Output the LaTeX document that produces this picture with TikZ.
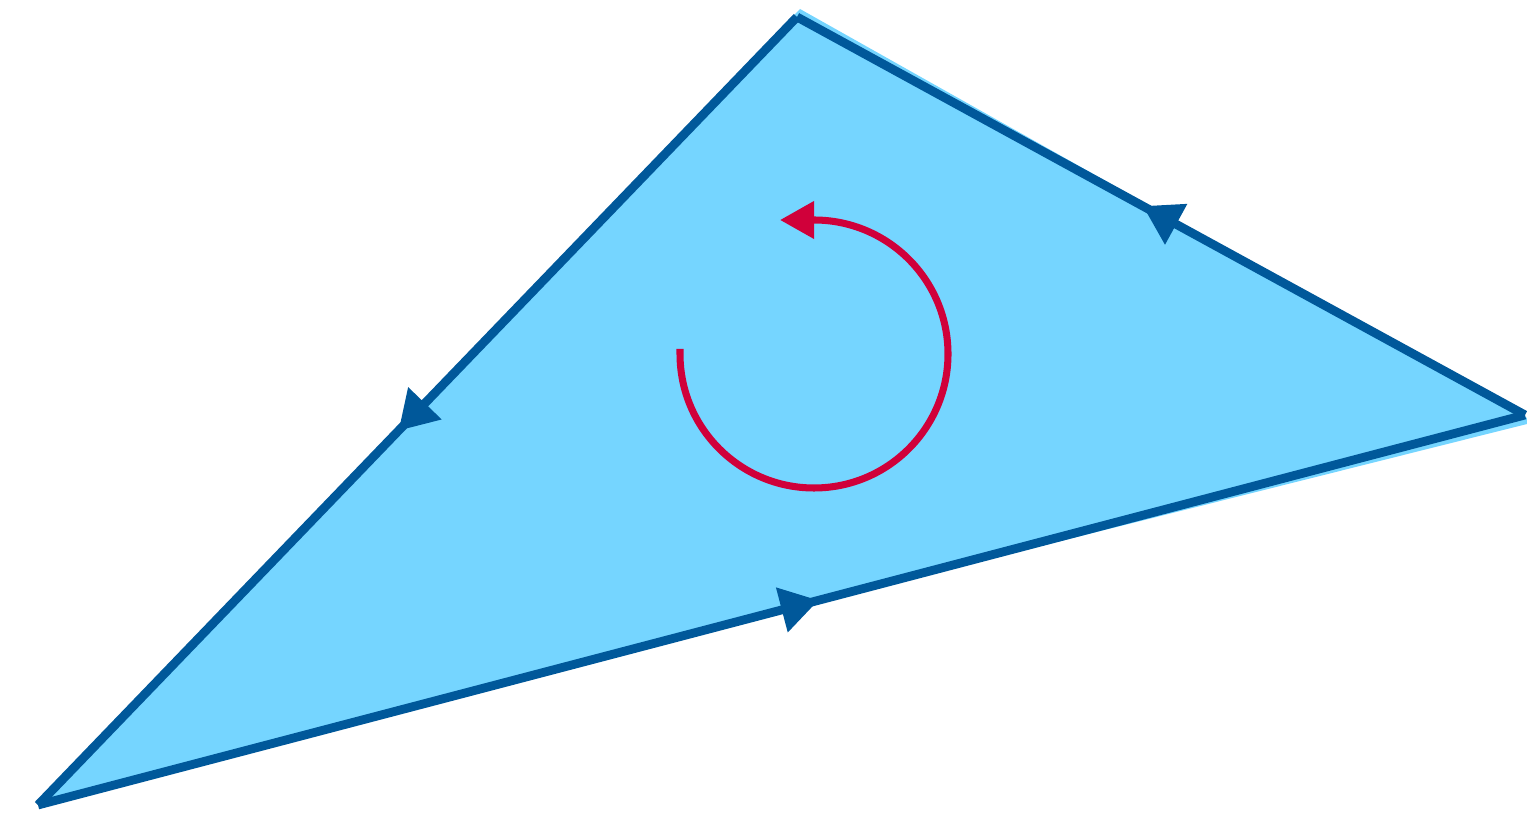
\documentclass[tikz,border=0pt]{standalone}
\usepackage{xcolor}
\usetikzlibrary{arrows.meta,decorations.markings}
\definecolor{facefill}{HTML}{75D5FF}
\definecolor{edgeblue}{HTML}{00589A}
\definecolor{turnred}{HTML}{D0003A}
\tikzset{%
  % face and edges
  face/.style={fill=facefill, draw=none},
  edge/.style={draw=edgeblue, line width=2.5pt,
    postaction={decorate},
    decoration={markings,
      mark=at position 0.525 with {\arrow{Triangle[length=3.8mm,width=4.4mm]}}}},
  % orientation arrow
  turn/.style={draw=turnred, line width=2pt, -{Triangle[length=3.4mm,width=3.6mm]}},
}

\begin{document}
\begin{tikzpicture}[x=0.01cm, y=-0.01cm]
  \useasboundingbox (0,0) rectangle (1527,813);

  % Vertices
  \coordinate (vtop) at (797,17);
  \coordinate (vright) at (1525,415);
  \coordinate (vleft) at (38,805);

  % Face
  \fill[face] (800,9) -- (1527,418) -- (1527,424) -- (790,609) -- (40,806) -- cycle;
  \fill[face] (vtop) -- (vright) -- (vleft) -- cycle;

  % Edges
  \draw[edge] (vtop) -- (vleft);
  \draw[edge] (vleft) -- (vright);
  \draw[edge] (vright) -- (vtop);

  % Orientation
  \draw[turn] (680,349) -- (680,354) arc[start angle=180, end angle=-90, radius=134]
    -- ++(-34,0);
\end{tikzpicture}
\end{document}
